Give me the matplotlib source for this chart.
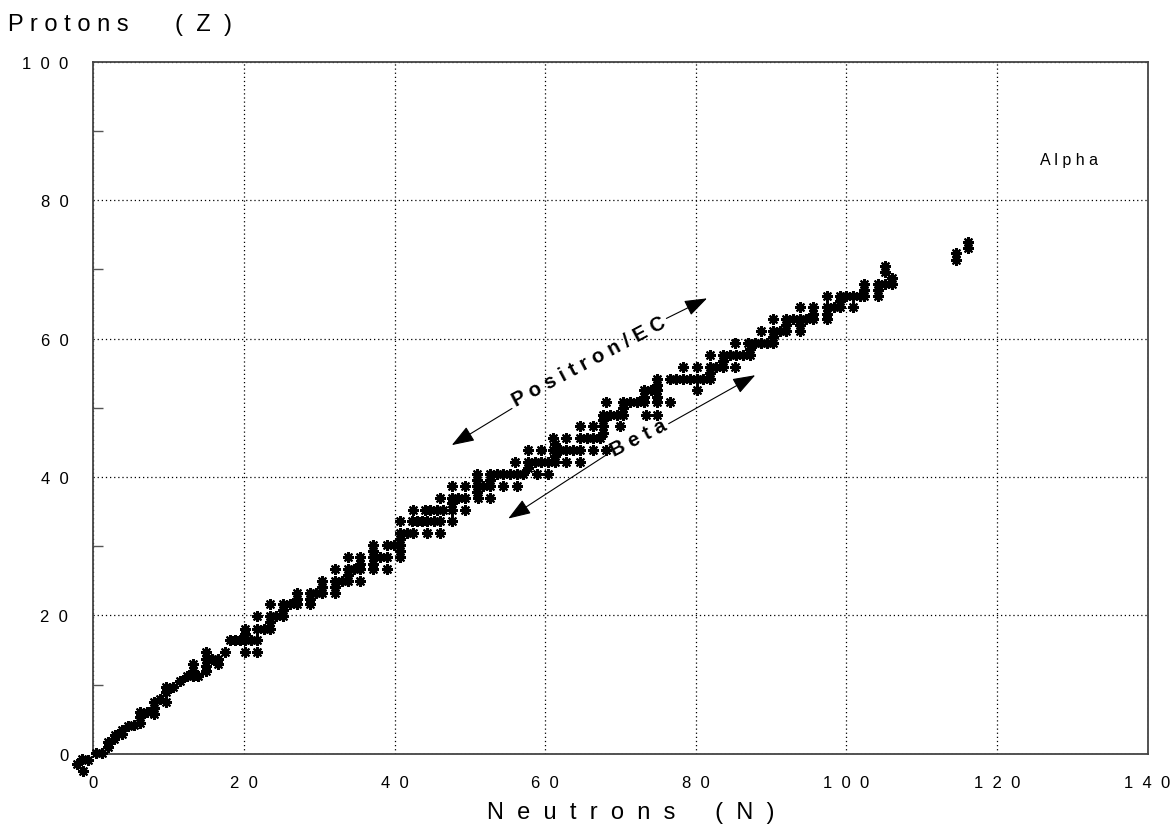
import matplotlib
matplotlib.use("Agg")
import matplotlib.pyplot as plt

plt.rcParams["font.family"] = ["Liberation Sans", "DejaVu Sans"]

# stable nuclides (neutrons, protons)
light = [(-2.2, -1.4), (-1.5, -0.7), (-1.4, -2.4), (-0.7, -0.8),
         (0.4, 0.1), (1.1, 0.1), (2.0, 1.0), (2.0, 1.8), (2.8, 2.2), (2.9, 2.7),
         (3.8, 2.9), (3.8, 3.4), (4.6, 4.0), (5.4, 4.2),
         (6.2, 4.5), (6.2, 5.3), (6.2, 6.0), (7.1, 6.0),
         (8.0, 5.8), (8.0, 6.7), (8.0, 7.5), (8.9, 7.9),
         (9.7, 7.5), (9.7, 8.9), (9.7, 9.6), (10.6, 9.6), (11.5, 10.6),
         (12.4, 11.2), (13.3, 11.2), (13.9, 11.2), (13.3, 12.0), (13.3, 13.0),
         (15.0, 12.0), (15.0, 12.7), (15.0, 13.7), (15.0, 14.7),
         (15.7, 13.7), (16.6, 13.7), (16.6, 13.0), (17.5, 14.7)]

middle = [(18.1, 16.4), (18.8, 16.4), (19.5, 16.4), (20.1, 16.4), (20.9, 16.4), (21.7, 16.4),
          (20.1, 17.3), (20.1, 18.1), (20.1, 14.7), (21.7, 14.7),
          (21.7, 18.1), (21.7, 19.9),
          (22.6, 18.1), (23.5, 18.1), (23.5, 19.0), (23.5, 19.9), (23.5, 21.6),
          (24.3, 19.9), (25.2, 19.9), (25.2, 20.8), (25.2, 21.6),
          (26.1, 21.6), (27.0, 21.6), (27.0, 22.4), (27.0, 23.3),
          (28.8, 21.6), (28.8, 22.4), (28.8, 23.3), (29.6, 23.3), (30.3, 23.3), (30.3, 24.1), (30.3, 25.0),
          (32.1, 23.3), (32.1, 24.1), (32.1, 25.0), (32.1, 26.7),
          (33.0, 25.0), (33.8, 25.0), (33.8, 25.8), (33.8, 26.7), (33.8, 28.4),
          (35.4, 25.0), (34.6, 26.7), (35.4, 26.7), (35.4, 27.5), (35.4, 28.4),
          (37.2, 26.7), (37.2, 27.5), (37.2, 28.4), (37.2, 29.3), (37.2, 30.2),
          (39.0, 26.7), (38.1, 28.4), (39.0, 28.4),
          (39.0, 30.2), (39.9, 30.2), (40.7, 30.2),
          (40.7, 28.4), (40.7, 29.3), (40.7, 31.1), (40.7, 31.9),
          (41.6, 31.9), (42.5, 31.9), (44.3, 31.9), (46.0, 31.9),
          (40.7, 33.6), (42.3, 33.6), (43.0, 33.6), (43.6, 33.6), (44.3, 33.6),
          (45.2, 33.6), (46.0, 33.6), (47.6, 33.6),
          (42.5, 35.3), (44.0, 35.3), (44.7, 35.3), (45.6, 35.3), (46.5, 35.3), (47.6, 35.3), (49.3, 35.3),
          (47.6, 36.2), (46.0, 37.0), (47.6, 37.0), (48.4, 37.0), (49.3, 37.0),
          (47.6, 38.7), (49.3, 38.7)]

heavy = [(51.1, 37.0), (52.7, 37.0),
         (50.9, 38.7), (51.8, 38.7), (52.7, 38.7), (54.4, 38.7), (56.2, 38.7),
         (50.9, 37.9), (50.9, 39.6), (52.7, 39.6),
         (50.9, 40.5), (52.7, 40.5), (53.6, 40.5), (54.4, 40.5), (55.3, 40.5),
         (56.2, 40.5), (57.1, 40.5), (58.9, 40.5), (60.4, 40.5),
         (56.0, 42.2), (57.7, 42.2), (58.6, 42.2), (59.5, 42.2), (60.4, 42.2),
         (61.3, 42.2), (62.8, 42.2), (64.6, 42.2), (57.7, 41.3),
         (57.7, 43.9), (59.5, 43.9), (61.1, 43.9), (62.0, 43.9), (62.8, 43.9),
         (63.7, 43.9), (64.6, 43.9), (66.4, 43.9), (68.1, 43.9),
         (61.3, 43.0), (61.3, 44.7),
         (61.1, 45.6), (62.8, 45.6), (64.6, 45.6), (65.5, 45.6), (66.4, 45.6), (67.3, 45.6),
         (64.6, 47.3), (66.4, 47.3), (67.7, 47.3), (69.9, 47.3),
         (67.7, 46.4), (67.7, 48.2),
         (67.7, 49.0), (68.6, 49.0), (69.5, 49.0), (70.4, 49.0), (73.4, 49.0), (74.9, 49.0),
         (70.4, 49.9),
         (68.1, 50.8), (70.4, 50.8), (71.3, 50.8), (72.2, 50.8), (73.1, 50.8), (74.9, 50.8), (76.6, 50.8),
         (73.1, 51.6), (74.9, 51.6),
         (73.1, 52.5), (74.0, 52.5), (74.9, 52.5), (80.1, 52.5), (74.9, 53.3),
         (74.9, 54.2), (76.6, 54.2), (77.4, 54.2), (78.3, 54.2), (79.2, 54.2),
         (80.1, 54.2), (81.0, 54.2), (81.9, 54.2), (81.9, 55.0),
         (78.3, 55.9), (80.1, 55.9), (81.9, 55.9), (82.7, 55.9), (83.6, 55.9), (85.2, 55.9),
         (83.6, 56.7),
         (81.9, 57.6), (83.6, 57.6), (84.5, 57.6), (85.4, 57.6), (86.3, 57.6), (87.2, 57.6),
         (87.2, 58.5),
         (85.2, 59.3), (87.0, 59.3), (87.9, 59.3), (88.7, 59.3), (89.4, 59.3),
         (88.7, 61.1), (90.3, 59.3), (90.3, 60.2), (90.3, 61.1),
         (91.2, 61.1), (92.0, 61.1), (92.0, 62.0),
         (90.3, 62.8), (92.0, 62.8), (92.9, 62.8), (93.8, 62.8), (94.7, 62.8), (95.6, 62.8),
         (93.8, 64.5), (93.8, 61.9), (93.8, 61.1), (95.6, 64.5), (95.6, 63.6),
         (97.4, 66.2), (97.4, 64.5), (97.4, 63.6), (97.4, 62.8),
         (98.3, 64.5), (99.1, 64.5), (99.1, 65.4), (99.1, 66.2),
         (100.0, 66.2), (100.9, 66.2), (101.8, 66.2), (102.4, 66.2), (100.9, 64.5),
         (102.4, 67.0), (102.4, 67.9),
         (104.2, 66.2), (104.2, 67.0), (104.2, 67.9),
         (105.1, 67.9), (105.1, 69.6), (105.1, 70.5), (106.0, 67.9), (106.0, 68.8),
         (114.5, 71.4), (114.5, 72.3), (116.2, 73.1), (116.2, 74.0)]

x_ticks = [0, 20, 40, 60, 80, 100, 120, 140]
y_ticks = [0, 20, 40, 60, 80, 100]
y_minor = [10, 30, 50, 70, 90]

def spaced(v):
    return "  ".join(str(v))

fig = plt.figure(figsize=(11.74, 8.37), dpi=100)
ax = fig.add_axes([0.0795, 0.098, 0.898, 0.8273])

nuclides = light + middle + heavy
neutrons = [p[0] for p in nuclides]
protons = [p[1] for p in nuclides]
ax.plot(neutrons, protons, linestyle="none", marker=(8, 2, 0), markersize=7.8,
        markeredgewidth=1.5, color="black", clip_on=False, zorder=3)

ax.set_xlim(0, 140)
ax.set_ylim(0, 100)
ax.set_xticks(x_ticks)
ax.set_xticklabels([spaced(v) for v in x_ticks], fontsize=12)
ax.set_yticks(y_ticks)
ax.set_yticklabels([spaced(v) for v in y_ticks], fontsize=12)
ax.set_yticks(y_minor, minor=True)
ax.tick_params(axis="both", which="major", length=0)
ax.tick_params(axis="x", which="major", pad=15)
ax.tick_params(axis="y", which="major", pad=18)
ax.tick_params(axis="y", which="minor", direction="in", length=7, width=1, color="#555555")
ax.grid(True, which="major", color="black", linestyle=(0, (1, 2.3)), linewidth=0.9)
for s in ax.spines.values():
    s.set_color("#444444")
    s.set_linewidth(1.3)

fig.text(0.007, 0.9705, "P r o t o n s       (  Z  )", fontsize=17, ha="left", va="center")
fig.text(0.5375, 0.0287, "N  e  u  t  r  o  n  s      (  N  )", fontsize=17, ha="center", va="center")

arrow = dict(arrowstyle="-|>,head_length=0.7,head_width=0.25", color="black",
             lw=0.8, mutation_scale=20, shrinkA=0, shrinkB=0)
ax.annotate("", xy=(47.6, 44.6), xytext=(55.6, 49.9), arrowprops=arrow)
ax.annotate("", xy=(81.5, 65.8), xytext=(76.1, 62.9), arrowprops=arrow)
ax.annotate("", xy=(55.1, 34.0), xytext=(68.0, 43.1), arrowprops=arrow)
ax.annotate("", xy=(87.9, 54.7), xytext=(76.4, 47.7), arrowprops=arrow)

ax.text(65.8, 56.8, "P o s i t r o n / E C", fontsize=14.5, fontweight="bold",
        rotation=28, rotation_mode="anchor", ha="center", va="center")
ax.text(72.4, 45.7, "B e t a", fontsize=14.5, fontweight="bold",
        rotation=27, rotation_mode="anchor", ha="center", va="center")
ax.text(125.7, 85.8, "A l p h a", fontsize=11.5, ha="left", va="center")

fig.savefig("out.png", dpi=100)
